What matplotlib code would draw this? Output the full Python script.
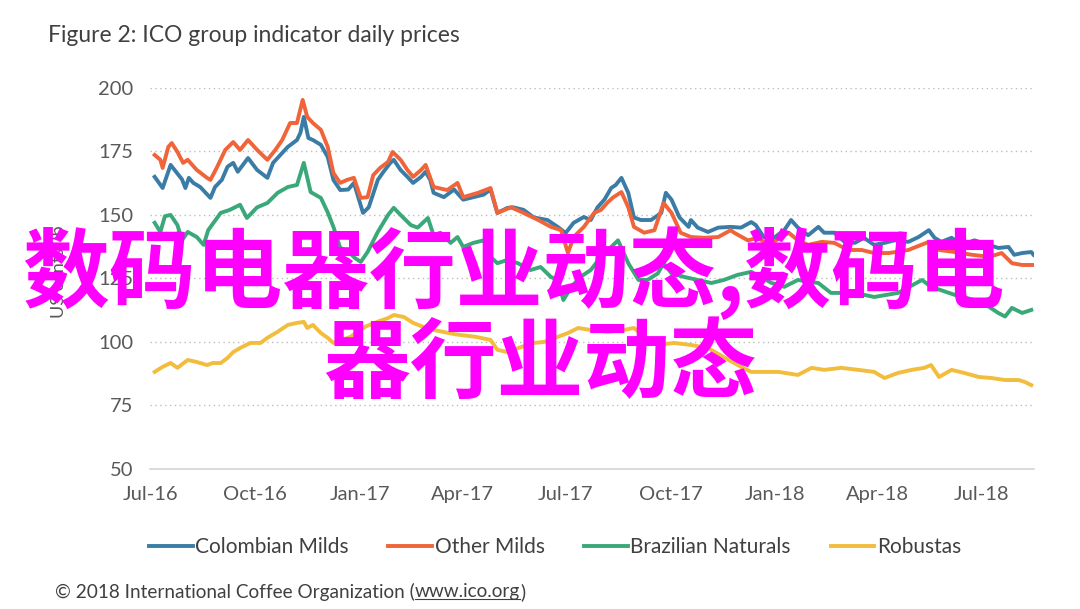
import numpy as np
import matplotlib
matplotlib.use("Agg")
import matplotlib.pyplot as plt

plt.rcParams['font.family'] = ['Lato', 'DejaVu Sans']

# days counted from 1 Jul 2016
START = np.datetime64('2016-07-01')

colombian_days = [4, 11, 18, 28, 31, 34, 38, 44, 53, 57, 63, 68, 73, 77, 86, 94, 103, 108, 116, 121,
                  129, 132, 135, 139, 143, 150, 156, 161, 167, 174, 179, 187, 192, 200, 205, 211, 214,
                  220, 226, 231, 238, 242, 246, 249, 258, 267, 275, 284, 293, 299, 305, 314, 319, 328,
                  337, 349, 358, 365, 372, 381, 387, 393, 399, 405, 409, 414, 420, 425, 431, 440, 449,
                  453, 458, 465, 473, 475, 481, 490, 499, 510, 519, 528, 532, 539, 548, 557, 563, 569,
                  578, 587, 592, 601, 610, 619, 627, 636, 645, 654, 666, 675, 684, 689, 695, 704, 713,
                  724, 737, 745, 754, 759, 766, 774, 776]
colombian_vals = [165, 160.6, 169.7, 164, 160.6, 164.6, 162.6, 161, 156.7, 161, 163.8, 169, 170.5, 167,
                  172.4, 167.7, 164.6, 170.5, 174.4, 176.8, 179.5, 182.3, 188.6, 180.3, 179.5, 177.6,
                  172.8, 163.8, 159.8, 160, 162.6, 150.8, 153, 163.8, 167, 170.5, 171.7, 167.7, 165,
                  162.6, 165, 167, 163.8, 158.7, 157, 160, 156, 157, 158, 160, 150.8, 152.8, 153, 152,
                  149, 148, 145.3, 142.9, 146.9, 149.2, 148, 153, 156, 160.6, 161.8, 164.6, 158.7, 149,
                  148, 148, 150.8, 158.7, 156, 149, 145.3, 148, 145, 143.3, 145, 145.3, 145, 147.2, 146,
                  141.3, 141, 144, 148, 145, 142, 145.3, 143, 143, 139.4, 139, 141, 138.2, 139, 140,
                  139.4, 141.3, 144, 141, 139.4, 141, 138.2, 140, 138.2, 137, 137.4, 134.3, 135, 135.4,
                  134.3]

other_days = [4, 9, 11, 16, 19, 24, 29, 33, 41, 50, 53, 59, 66, 73, 79, 86, 94, 103, 110, 116, 123,
              129, 134, 138, 143, 150, 156, 161, 167, 173, 179, 185, 191, 196, 202, 209, 213, 220, 226,
              231, 238, 242, 249, 261, 270, 275, 288, 299, 305, 317, 328, 341, 352, 361, 367, 372, 381,
              390, 396, 402, 407, 414, 420, 425, 434, 443, 451, 458, 466, 475, 487, 499, 510, 513, 525,
              534, 543, 561, 569, 578, 590, 601, 613, 625, 636, 649, 666, 684, 693, 707, 722, 737, 748,
              757, 766, 776]
other_vals = [173.6, 171.7, 168.5, 176.8, 178.3, 174.8, 170.5, 171.7, 167.7, 164.6, 163.8, 169, 175.6,
              178.7, 175.6, 179.5, 175.6, 171.7, 175.6, 179.5, 186.2, 186.2, 195.3, 188.6, 186.2, 183.5,
              176.8, 166.5, 162.6, 163.8, 164.6, 156.7, 157, 165.7, 168.5, 170.9, 174.8, 171.7, 167.7,
              165, 167.7, 169.7, 161, 159.8, 162.6, 157, 158.7, 160.6, 150.8, 153, 150.8, 148, 145.3,
              144, 135, 141.3, 145.3, 150.8, 152, 155, 157, 159, 153, 145.3, 143, 144, 154.7, 150.8,
              143, 141.3, 141, 141.3, 144, 143, 140, 141, 138.2, 143, 140, 138.2, 139.4, 139, 136.2,
              136.2, 135, 135, 136.2, 139.4, 136.2, 135.4, 134.3, 133.5, 135, 131, 130.3, 130.3]

brazil_days = [4, 9, 13, 18, 24, 28, 33, 41, 47, 51, 62, 70, 79, 85, 94, 103, 112, 121, 129, 135, 141,
               150, 156, 161, 167, 173, 180, 185, 191, 200, 209, 214, 220, 229, 235, 244, 249, 255, 264,
               270, 275, 284, 293, 299, 305, 314, 323, 334, 343, 352, 358, 363, 370, 378, 387, 396, 405,
               411, 420, 429, 437, 446, 451, 458, 469, 481, 493, 504, 516, 528, 546, 557, 569, 587, 598,
               619, 636, 657, 678, 686, 707, 724, 737, 745, 751, 757, 766, 774]
brazil_vals = [146.9, 143.3, 149.5, 150, 146, 140, 143.3, 141.3, 138.2, 144, 150.8, 152, 154, 148.8, 153,
               154.7, 158.7, 161, 161.8, 170.5, 159, 156.7, 151, 145.3, 137, 136, 133, 131.5, 135.4,
               143.3, 150, 152.8, 150, 146, 145, 148.8, 142, 143, 139, 141.3, 137.4, 139, 140, 133.5,
               131, 132.3, 131, 128.3, 129.5, 125.6, 124.4, 116.5, 121.7, 125.6, 128.3, 133.5, 137.4,
               140, 131, 124.4, 124.4, 127, 131, 127, 125.6, 124.4, 123.2, 124.4, 126.4, 127.6, 123.2,
               121.7, 124.4, 123.2, 119.3, 119.3, 117.7, 119.3, 124.4, 121.7, 118.5, 116.5, 113.8,
               111.4, 110, 113.4, 111.4, 112.6]

robusta_days = [4, 11, 18, 24, 33, 41, 50, 55, 62, 68, 73, 79, 88, 97, 103, 112, 121, 129, 135, 138,
                143, 150, 156, 161, 176, 189, 200, 209, 214, 223, 231, 240, 249, 268, 286, 299, 305,
                314, 326, 337, 346, 358, 367, 376, 387, 402, 416, 425, 434, 446, 460, 475, 490, 504,
                519, 528, 539, 552, 569, 581, 592, 607, 622, 636, 645, 657, 669, 680, 686, 693, 704,
                715, 728, 739, 751, 763, 768, 774]
robusta_vals = [88.2, 90.2, 91.7, 89.8, 92.9, 92.1, 90.9, 91.7, 91.7, 93.7, 96, 97.6, 99.6, 99.6, 101.6,
                104, 106.7, 107.5, 107.9, 105.5, 106.7, 103.5, 101.6, 99.6, 102, 106, 108, 109.4, 110.6,
                109.8, 107.5, 105.9, 104.7, 103, 102, 100.8, 96.9, 96, 98, 99.6, 100, 102, 103.5, 105.5,
                104.7, 104, 104.7, 105.5, 102, 98.8, 99.6, 98.8, 97.6, 94, 90.2, 88.2, 88.2, 88.2, 87,
                89.8, 89, 89.8, 89, 88.2, 85.8, 87.8, 89, 89.8, 90.9, 86.2, 89, 87.8, 86.2, 85.8, 85,
                85, 84.3, 83]

series_names = ['Colombian Milds', 'Other Milds', 'Brazilian Naturals', 'Robustas']
series_colors = ['#3b7ca6', '#f0643a', '#3aa878', '#f2bd3c']

tick_dates = ['2016-07-01', '2016-10-01', '2017-01-01', '2017-04-01', '2017-07-01',
              '2017-10-01', '2018-01-01', '2018-04-01', '2018-07-01']
tick_labels = ['Jul-16', 'Oct-16', 'Jan-17', 'Apr-17', 'Jul-17', 'Oct-17', 'Jan-18', 'Apr-18', 'Jul-18']
y_ticks = [50, 75, 100, 125, 150, 175, 200]


def to_dates(days):
    return START + np.array(days).astype('timedelta64[D]')


fig = plt.figure(figsize=(10.8, 6.09), dpi=100)
ax = fig.add_axes([0.139, 0.23, 0.818, 0.6256])

all_days = [colombian_days, other_days, brazil_days, robusta_days]
all_vals = [colombian_vals, other_vals, brazil_vals, robusta_vals]
for d, v, name, c in zip(all_days, all_vals, series_names, series_colors):
    ax.plot(to_dates(d), v, color=c, lw=2.8, label=name, solid_joinstyle='round')

ax.set_ylim(50, 200)
ax.set_xlim(to_dates([0])[0], to_dates([776])[0])
ax.set_yticks(y_ticks)
ax.set_xticks(np.array(tick_dates, dtype='datetime64[D]'))
ax.set_xticklabels(tick_labels)
ax.yaxis.grid(True, linestyle=(0, (1, 2.5)), color='#bdbdbd', lw=1)
ax.set_axisbelow(True)
for s in ['left', 'right', 'top']:
    ax.spines[s].set_visible(False)
ax.spines['bottom'].set_color('#d4d4d4')
ax.spines['bottom'].set_linewidth(1.2)
ax.tick_params(axis='both', length=0, labelsize=14.5, colors='#595959')
ax.tick_params(axis='y', pad=12)
ax.tick_params(axis='x', pad=12)

fig.text(48 / 1080, 1 - 36 / 609, 'Figure 2: ICO group indicator daily prices',
         fontsize=16.5, color='#404040', va='center', ha='left')
fig.text(58 / 1080, 1 - 272 / 609, 'US cents/lb', rotation=90, fontsize=13,
         color='#595959', va='center', ha='center')

fig.legend(loc='center', bbox_to_anchor=(555 / 1080, 1 - 547 / 609), ncol=4, frameon=False,
           fontsize=15, handlelength=2.1, handletextpad=0.12, columnspacing=1.9,
           labelcolor='#404040')

# footer with underlined link
fig.canvas.draw()
renderer = fig.canvas.get_renderer()
fy = 1 - 592 / 609
fs = 13.7
t1 = fig.text(55 / 1080, fy, '\u00a9 2018 International Coffee Organization (', fontsize=fs,
              color='#404040', va='center', ha='left')
bb1 = t1.get_window_extent(renderer)
x2 = bb1.x1 / fig.bbox.width
t2 = fig.text(x2, fy, 'www.ico.org', fontsize=fs, color='#404040', va='center', ha='left')
bb2 = t2.get_window_extent(renderer)
fig.text(bb2.x1 / fig.bbox.width, fy, ')', fontsize=fs, color='#404040', va='center', ha='left')
uy = (bb2.y0 + 2) / fig.bbox.height
fig.add_artist(plt.Line2D([bb2.x0 / fig.bbox.width, bb2.x1 / fig.bbox.width], [uy, uy],
                          color='#404040', lw=0.8, transform=fig.transFigure))

# overlay text
cjk = ['Noto Sans CJK SC', 'DejaVu Sans']
fig.text(22 / 1080, 1 - 273 / 609, '数码电器行业动态,数码电', fontsize=62.5, color='#ff00ff',
         family=cjk, weight='bold', va='center', ha='left', zorder=10)
fig.text(540 / 1080, 1 - 366 / 609, '器行业动态', fontsize=62.5, color='#ff00ff',
         family=cjk, weight='bold', va='center', ha='center', zorder=10)

fig.savefig('out.png', dpi=100)
